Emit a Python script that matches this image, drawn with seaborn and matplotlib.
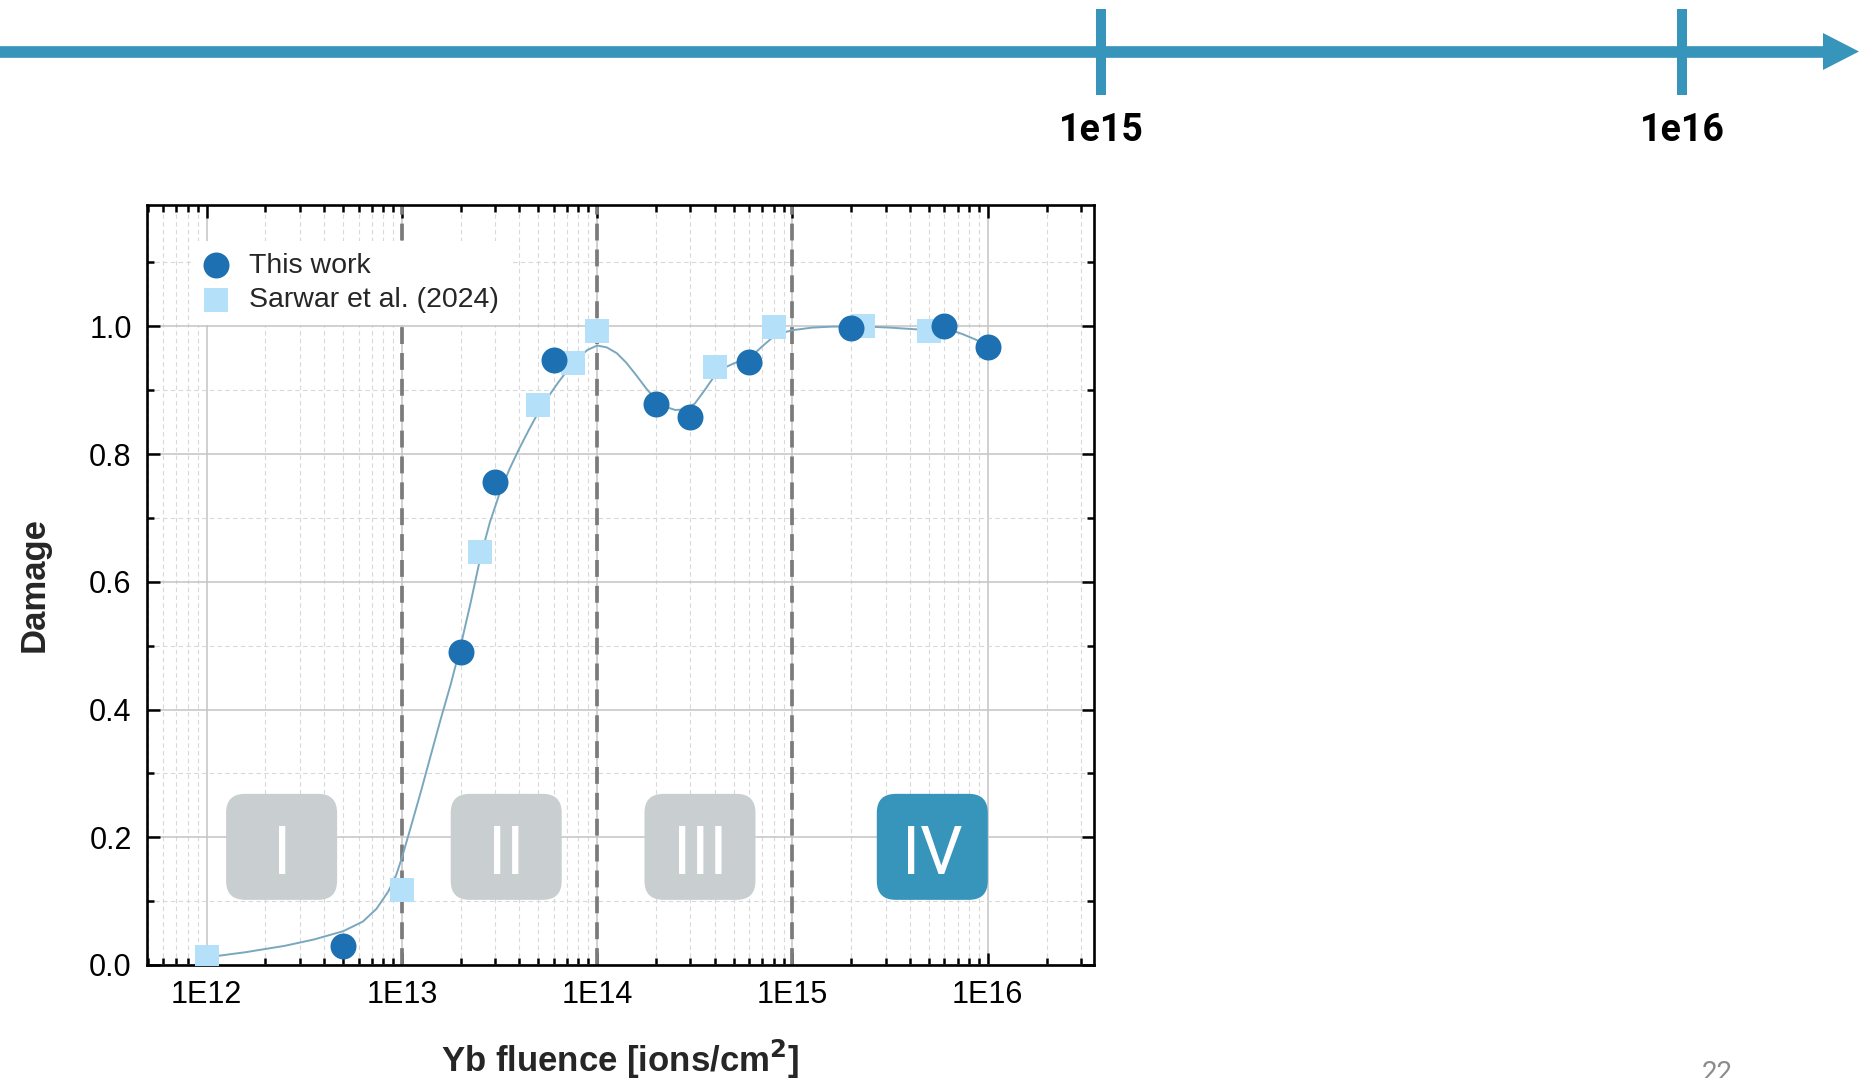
import math
import matplotlib
matplotlib.use("Agg")
import matplotlib.pyplot as plt
import matplotlib.transforms as mtransforms
import seaborn as sns
from matplotlib.patches import FancyBboxPatch, Polygon
from matplotlib.ticker import FixedLocator, LogLocator, MultipleLocator, NullFormatter, FormatStrFormatter

# ---- measured damage ----
this_work_fluence = [5e12, 2e13, 3e13, 6e13, 2e14, 3e14, 6e14, 2e15, 6e15, 1e16]
this_work_damage = [0.030, 0.490, 0.757, 0.948, 0.878, 0.858, 0.944, 0.998, 1.000, 0.968]

sarwar_fluence = [1e12, 1e13, 2.5e13, 5e13, 7.5e13, 1e14, 4e14, 8e14, 2.3e15, 5e15]
sarwar_damage = [0.013, 0.117, 0.647, 0.877, 0.943, 0.993, 0.936, 0.999, 1.000, 0.993]

# ---- guide-to-the-eye curve ----
fit_fluence = [1.00e12, 1.58e12, 2.51e12, 3.55e12, 5.01e12, 6.31e12, 7.41e12, 8.51e12,
               9.33e12, 1.00e13, 1.12e13, 1.26e13, 1.41e13, 1.58e13, 1.78e13, 2.00e13,
               2.24e13, 2.51e13, 2.82e13, 3.16e13, 3.55e13, 3.98e13, 4.47e13, 5.01e13,
               5.62e13, 6.31e13, 7.08e13, 7.94e13, 8.91e13, 1.00e14, 1.12e14, 1.26e14,
               1.41e14, 1.58e14, 1.78e14, 2.00e14, 2.24e14, 2.51e14, 2.82e14, 3.16e14,
               3.55e14, 3.98e14, 4.47e14, 5.01e14, 5.62e14, 6.31e14, 7.08e14, 7.94e14,
               8.91e14, 1.00e15, 1.26e15, 1.58e15, 2.24e15, 3.16e15, 4.47e15, 5.62e15,
               6.31e15, 7.41e15, 8.71e15, 1.00e16]
fit_damage = [0.012, 0.020, 0.030, 0.040, 0.053, 0.068, 0.088, 0.115,
              0.140, 0.168, 0.220, 0.275, 0.330, 0.385, 0.440, 0.500,
              0.565, 0.635, 0.693, 0.738, 0.776, 0.808, 0.838, 0.866,
              0.890, 0.912, 0.932, 0.950, 0.963, 0.970, 0.967, 0.958,
              0.943, 0.924, 0.903, 0.885, 0.874, 0.869, 0.870, 0.879,
              0.900, 0.922, 0.935, 0.942, 0.948, 0.956, 0.970, 0.983,
              0.990, 0.994, 0.998, 0.9995, 1.000, 0.998, 0.995, 0.996,
              0.995, 0.988, 0.979, 0.970]

# ---- damage regimes ----
region_bounds = [1e13, 1e14, 1e15]
region_labels = ["I", "II", "III", "IV"]
region_centers = [2.42e12, 3.42e13, 3.36e14, 5.2e15]
region_active = [False, False, False, True]

x_ticks = [1e12, 1e13, 1e14, 1e15, 1e16]
x_tick_labels = ["1E12", "1E13", "1E14", "1E15", "1E16"]

timeline_ticks = [1e15, 1e16]
timeline_labels = ["1e15", "1e16"]
page_number = "22"

ACCENT = "#3795bb"
GREY_BOX = "#c9cfd1"
DOT = "#1d70b1"
SQUARE = "#b4e1f9"
CURVE = "#7aa7be"

sns.set_theme(style="white")
plt.rcParams["font.family"] = ["Liberation Sans", "DejaVu Sans"]

W, H = 1872, 1078
fig = plt.figure(figsize=(W / 100, H / 100), dpi=100)
fig.patch.set_facecolor("white")

# ---------------- main damage plot ----------------
ax_l, ax_t_px, ax_r, ax_b_px = 147, 205, 1094, 965
ax = fig.add_axes([ax_l / W, 1 - ax_b_px / H, (ax_r - ax_l) / W, (ax_b_px - ax_t_px) / H])
ax.set_facecolor("white")
ax.set_xscale("log")
xmin, xmax = 4.95e11, 3.5e16
ymax = 1.19
ax.set_xlim(xmin, xmax)
ax.set_ylim(0, ymax)

ax.xaxis.set_major_locator(FixedLocator(x_ticks))
ax.set_xticklabels(x_tick_labels)
ax.xaxis.set_minor_locator(LogLocator(base=10, subs=range(2, 10), numticks=50))
ax.xaxis.set_minor_formatter(NullFormatter())
ax.yaxis.set_major_locator(MultipleLocator(0.2))
ax.yaxis.set_minor_locator(MultipleLocator(0.1))
ax.yaxis.set_major_formatter(FormatStrFormatter("%.1f"))

ax.grid(which="major", color="#c4c4c4", lw=1.1, ls="-")
ax.grid(which="minor", color="#d9d9d9", lw=0.8, ls=(0, (4, 3)))
ax.set_axisbelow(True)

for s in ax.spines.values():
    s.set_color("black")
    s.set_linewidth(1.9)
ax.tick_params(which="both", direction="in", top=True, right=True, bottom=True, left=True,
               width=1.8, colors="black", labelsize=22, pad=11)
ax.tick_params(which="major", length=9)
ax.tick_params(which="minor", length=5)

for b in region_bounds:
    ax.axvline(b, color="#7b7b7b", lw=2.7, ls=(0, (4.5, 2.4)), zorder=1.6)

# regime boxes
span = ax.get_yaxis_transform()  # x: axes fraction, y: data
lxmin, lxmax = math.log10(xmin), math.log10(xmax)
box_w = 111 / (ax_r - ax_l)
box_lo, box_hi = 0.102, 0.268
px_per_unit_y = (ax_b_px - ax_t_px) / ymax
for lab, xc, act in zip(region_labels, region_centers, region_active):
    fx = (math.log10(xc) - lxmin) / (lxmax - lxmin)
    patch = FancyBboxPatch((fx - box_w / 2, box_lo), box_w, box_hi - box_lo,
                           boxstyle="round,pad=0,rounding_size=0.02",
                           mutation_aspect=(ax_r - ax_l) / px_per_unit_y,
                           transform=span, fc=ACCENT if act else GREY_BOX,
                           ec="none", zorder=2.5)
    ax.add_patch(patch)
    ax.text(fx, 0.143, lab, transform=span, ha="center", va="baseline",
            color="white", fontsize=48, family="Roboto", zorder=2.6)

sns.lineplot(x=fit_fluence, y=fit_damage, sort=False, estimator=None,
             color=CURVE, lw=1.4, ax=ax, zorder=3)
sns.scatterplot(x=sarwar_fluence, y=sarwar_damage, marker="s", s=290, color=SQUARE,
                linewidth=0, ax=ax, zorder=4, label="Sarwar et al. (2024)")
sns.scatterplot(x=this_work_fluence, y=this_work_damage, marker="o", s=350, color=DOT,
                linewidth=0, ax=ax, zorder=5, label="This work")

handles, labels = ax.get_legend_handles_labels()
order = [labels.index("This work"), labels.index("Sarwar et al. (2024)")]
leg = ax.legend([handles[i] for i in order], [labels[i] for i in order],
                loc="upper left", bbox_to_anchor=(0.046, 0.952), frameon=True,
                fancybox=False, framealpha=1, edgecolor="none", facecolor="white",
                fontsize=20.5, handlelength=1.0, handletextpad=0.65, labelspacing=0.3,
                borderpad=0.4, borderaxespad=0)
leg.set_zorder(6)

ax.set_xlabel("Yb fluence [ions/cm$^\\mathbf{2}$]", fontsize=25, fontweight="bold", labelpad=20)
ax.set_ylabel("Damage", fontsize=25, fontweight="bold", labelpad=28)

# ---------------- fluence timeline ----------------
tl = fig.add_axes([0, 1 - 160 / H, 1, 160 / H])
tl.set_xscale("log")
tl.set_xlim(1.274e13, 2.123e16)
tl.set_ylim(160, 0)
tl.axis("off")
tl_blend = mtransforms.blended_transform_factory(tl.transAxes, tl.transData)
tl.plot([0, 1826 / W], [51.5, 51.5], transform=tl_blend, color=ACCENT, lw=8.4,
        solid_capstyle="butt")
tl.add_patch(Polygon([[1823 / W, 33], [1859 / W, 51.5], [1823 / W, 70]], closed=True,
                     transform=tl_blend, fc=ACCENT, ec="none"))
tl.vlines(timeline_ticks, 8.5, 95, color=ACCENT, lw=7.2)
for t, lab in zip(timeline_ticks, timeline_labels):
    tl.text(t, 141, lab, ha="center", va="baseline", fontsize=27, fontweight="semibold",
            family="Roboto", color="black")

fig.text(1717 / W, 1 - 1060 / H, page_number, ha="center", va="top", fontsize=20,
         family="Roboto", color="#8c8c8c")

fig.savefig("out.png", dpi=100, facecolor="white")
